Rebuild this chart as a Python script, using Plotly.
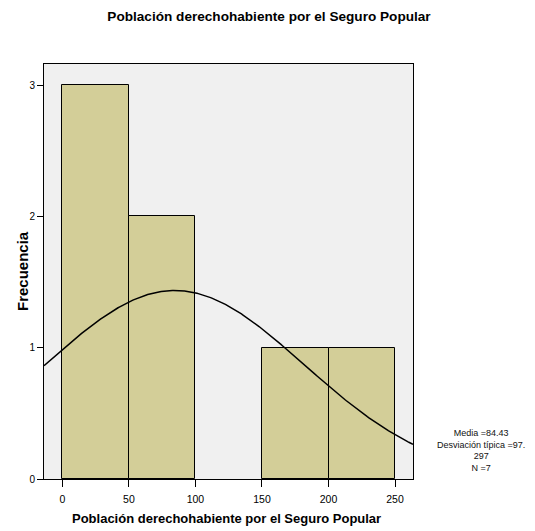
import numpy as np
import plotly.graph_objects as go

bin_edges = [0, 50, 100, 150, 200, 250]
counts = [3, 2, 0, 1, 1]
mean_val = 84.43
sd_val = 97.297
n_val = 7
title_text = "Población derechohabiente por el Seguro Popular"
x_ticks = [0, 50, 100, 150, 200, 250]
y_ticks = [0, 1, 2, 3]

FONT = "Liberation Sans Narrow, Arial Narrow, Liberation Sans, Arial, sans-serif"

centers = [(bin_edges[i] + bin_edges[i + 1]) / 2 for i in range(len(counts)) if counts[i] > 0]
vals = [c for c in counts if c > 0]
width = bin_edges[1] - bin_edges[0]

xr = [-13.8, 263.5]
xs = np.linspace(xr[0], xr[1], 300)
ys = n_val * width * np.exp(-0.5 * ((xs - mean_val) / sd_val) ** 2) / (sd_val * np.sqrt(2 * np.pi))

PW = 535 - 44 - 122
PH = 479 - 64

fig = go.Figure()
fig.add_trace(go.Bar(x=centers, y=vals, width=width,
                     marker=dict(color="#D3CE98", line=dict(color="black", width=1)),
                     hoverinfo="skip"))
fig.add_trace(go.Scatter(x=xs, y=ys, mode="lines", line=dict(color="black", width=1.5),
                         hoverinfo="skip"))

fig.update_layout(
    width=535, height=531,
    margin=dict(l=44, r=122, t=64, b=52),
    paper_bgcolor="white", plot_bgcolor="#F0F0F0",
    showlegend=False, bargap=0,
    font=dict(family=FONT, color="black", size=10),
    title=dict(text="<b>" + title_text + "</b>", x=269 / 535, xanchor="center",
               y=1 - 16 / 531, yanchor="middle", font=dict(size=13.6, family=FONT)),
    xaxis=dict(range=xr, tickvals=x_ticks, ticks="outside", ticklen=7, tickcolor="black",
               showgrid=False, zeroline=False, showline=True, linecolor="black", linewidth=1,
               mirror=True, tickfont=dict(size=10.5), ticklabelstandoff=3),
    yaxis=dict(range=[0, 3.16], tickvals=y_ticks, ticks="outside", ticklen=6, tickcolor="black",
               showgrid=False, zeroline=False, showline=True, linecolor="black", linewidth=1,
               mirror=True, tickfont=dict(size=10)),
    annotations=[
        dict(text="Media =84.43<br>Desviación típica =97.<br>297<br>N =7",
             xref="paper", yref="paper", x=(481 - 44) / PW,
             y=(479 - 450) / PH, xanchor="center", yanchor="middle",
             showarrow=False, align="center", font=dict(size=9, color="#111")),
        dict(text="<b>Frecuencia</b>", xref="paper", yref="paper",
             x=(22 - 44) / PW, y=(479 - 271) / PH, xanchor="center", yanchor="middle",
             textangle=-90, showarrow=False, font=dict(size=15)),
        dict(text="<b>" + title_text + "</b>", xref="paper", yref="paper",
             x=(226 - 44) / PW, y=(479 - 518) / PH, xanchor="center", yanchor="middle",
             showarrow=False, font=dict(size=13)),
    ],
)

fig.write_html("out.html", config={"displayModeBar": False},
               post_script="document.body.style.margin='0';")
